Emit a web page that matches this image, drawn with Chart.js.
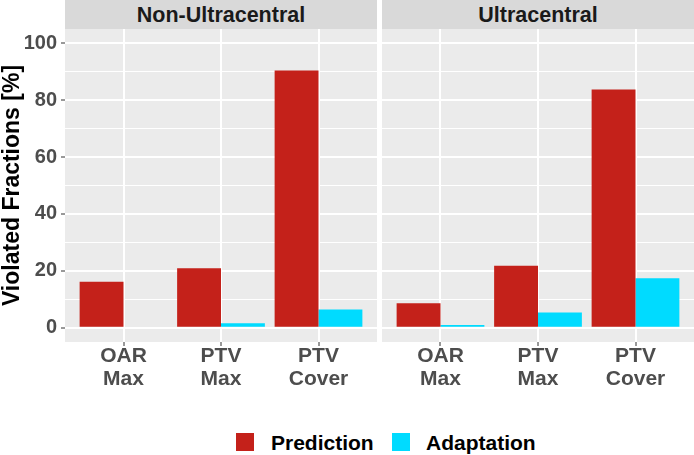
<!DOCTYPE html>
<html>
<head>
<meta charset="utf-8">
<script src="https://cdn.jsdelivr.net/npm/chart.js@4.4.1/dist/chart.umd.min.js"></script>
<style>
    body { margin: 0; background: #fff; font-family: "Liberation Sans", Arial, sans-serif; }
    #wrap { position: relative; width: 694px; height: 455px; overflow: hidden; }
    .strip { position: absolute; top: 0; height: 29px; background: #d9d9d9; color: #1a1a1a;
             font-weight: bold; font-size: 21.5px; line-height: 30px; text-align: center; }
    canvas { position: absolute; top: 29px; }
    .key { position: absolute; top: 433px; width: 18px; height: 18px; }
    .lab { position: absolute; top: 432px; font-weight: bold; font-size: 21px; line-height: 21px; color: #000; }
</style>
</head>
<body>
<div id="wrap">
    <div class="strip" style="left:65px;width:312px;">Non-Ultracentral</div>
    <div class="strip" style="left:382px;width:312px;">Ultracentral</div>
    <canvas id="panelLeft" width="377" height="380" style="left:0;"></canvas>
    <canvas id="panelRight" width="312" height="380" style="left:382px;"></canvas>
    <div class="key" style="left:236px;background:#c4211a;"></div>
    <span class="lab" style="left:271px;">Prediction</span>
    <div class="key" style="left:392px;background:#00dbff;"></div>
    <span class="lab" style="left:426px;">Adaptation</span>
</div>
<script>
// datos
const categories = [['OAR', 'Max'], ['PTV', 'Max'], ['PTV', 'Cover']];
const categoryPos = [1, 2, 3];
const yTickValues = [0, 10, 20, 30, 40, 50, 60, 70, 80, 90, 100];

const nonUltraPrediction = [16.2, 20.9, 90.4];
const nonUltraAdaptation = [0, 1.6, 6.4];
const ultraPrediction = [8.6, 21.8, 83.7];
const ultraAdaptation = [1.0, 5.4, 17.4];

const colorPrediction = '#c4211a';
const colorAdaptation = '#00dbff';

// fondo gris del panel (estilo ggplot)
const panelBackground = {
    id: 'panelBackground',
    beforeDraw(chart) {
        const { ctx, chartArea } = chart;
        ctx.save();
        ctx.fillStyle = '#ebebeb';
        ctx.fillRect(chartArea.left, chartArea.top, chartArea.right - chartArea.left, chartArea.bottom - chartArea.top);
        ctx.restore();
    }
};

function crearPanel(canvasId, prediction, adaptation, showY) {
    const ctx = document.getElementById(canvasId).getContext('2d');
    return new Chart(ctx, {
        type: 'bar',
        data: {
            datasets: [{
                label: 'Prediction',
                data: categoryPos.map((x, i) => ({ x: x, y: prediction[i] })),
                backgroundColor: colorPrediction,
                borderWidth: 0
            }, {
                label: 'Adaptation',
                data: categoryPos.map((x, i) => ({ x: x, y: adaptation[i] })),
                backgroundColor: colorAdaptation,
                borderWidth: 0
            }]
        },
        options: {
            responsive: false,
            animation: false,
            barPercentage: 1,
            categoryPercentage: 0.9,
            layout: { padding: 0 },
            plugins: {
                legend: { display: false },
                tooltip: { enabled: false }
            },
            scales: {
                x: {
                    type: 'linear',
                    min: 0.4,
                    max: 3.6,
                    offset: false,
                    afterBuildTicks: s => { s.ticks = categoryPos.map(v => ({ value: v })); },
                    afterFit: s => {
                        s.height = 67;
                        s.paddingLeft = 0;
                        s.paddingRight = 0;
                    },
                    ticks: {
                        color: '#4d4d4d',
                        font: { family: '"Liberation Sans", Arial', size: 21, weight: 'bold', lineHeight: 1.08 },
                        padding: -1,
                        maxRotation: 0,
                        autoSkip: false,
                        callback: v => categories[categoryPos.indexOf(v)]
                    },
                    grid: { color: '#ffffff', lineWidth: 2, offset: false, tickLength: 4, tickWidth: 1, tickColor: '#333333' },
                    border: { display: false }
                },
                y: {
                    min: -5,
                    max: 105,
                    afterBuildTicks: s => { s.ticks = yTickValues.map(v => ({ value: v })); },
                    afterFit: s => {
                        s.width = showY ? 65 : 0;
                        // mismo area de dibujo en los dos paneles
                        s.paddingTop = 0;
                        s.paddingBottom = 0;
                    },
                    ticks: {
                        display: showY,
                        color: '#4d4d4d',
                        font: { family: '"Liberation Sans", Arial', size: 20, weight: 'bold' },
                        padding: 4,
                        callback: v => (v % 20 === 0 ? v : '')
                    },
                    grid: {
                        color: '#ffffff',
                        lineWidth: c => (c.tick && c.tick.value % 20 === 0 ? 2 : 1),
                        drawTicks: showY,
                        tickLength: 4,
                        tickWidth: 1,
                        tickColor: c => (c.tick && c.tick.value % 20 === 0 ? '#333333' : 'rgba(0,0,0,0)')
                    },
                    border: { display: false },
                    title: {
                        display: showY,
                        text: 'Violated Fractions [%]',
                        color: '#000000',
                        font: { family: '"Liberation Sans", Arial', size: 23, weight: 'bold', lineHeight: 1 },
                        padding: { top: 1, bottom: 0 }
                    }
                }
            }
        },
        plugins: [panelBackground]
    });
}

crearPanel('panelLeft', nonUltraPrediction, nonUltraAdaptation, true);
crearPanel('panelRight', ultraPrediction, ultraAdaptation, false);
</script>
</body>
</html>
